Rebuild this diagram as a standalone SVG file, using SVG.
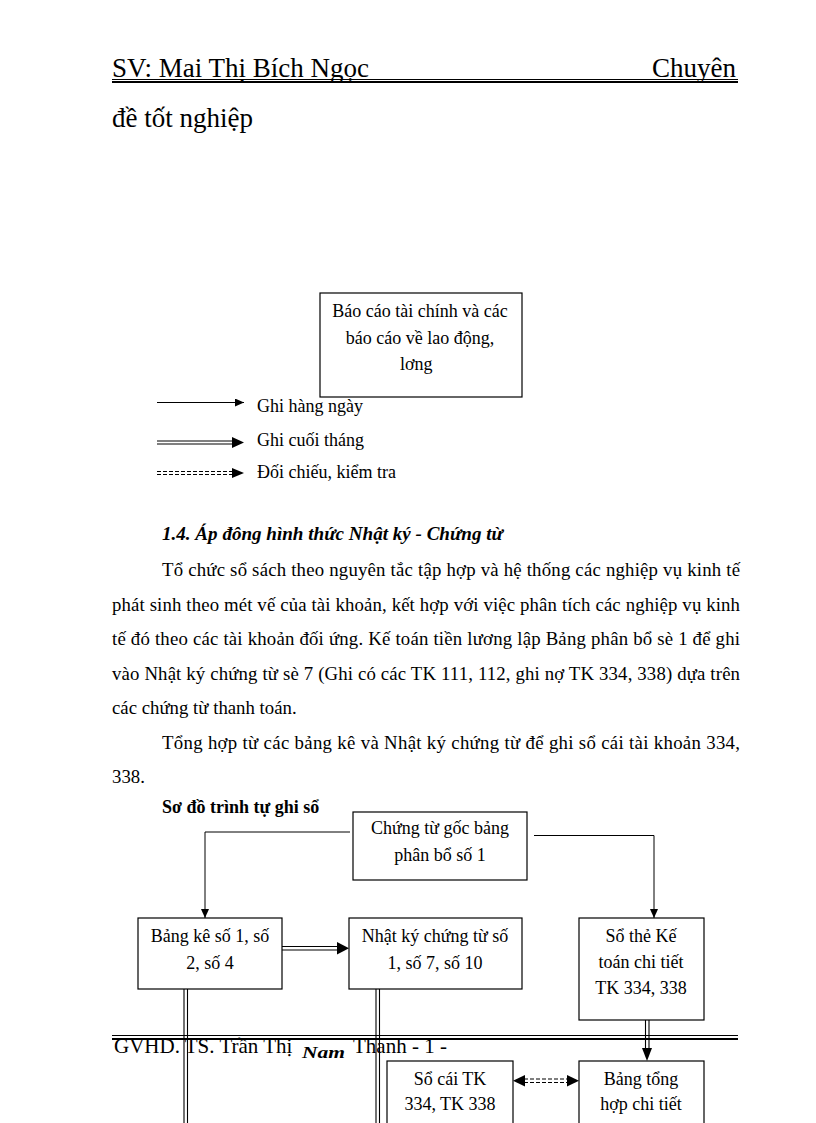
<svg xmlns="http://www.w3.org/2000/svg" width="816" height="1123" viewBox="0 0 816 1123">
<style>
text{font-family:"Liberation Serif","Times New Roman",serif;fill:#000}
.t{font-size:18px}
.c{text-anchor:middle}
.p{font-size:18.8px}
.box{fill:#fff;stroke:#000;stroke-width:1.2}
.ln{fill:none;stroke:#000;stroke-width:1}
.dl{fill:none;stroke:#000;stroke-width:1.1}
.dash{fill:none;stroke:#000;stroke-width:1.1;stroke-dasharray:4 2}
</style>
<defs>
<marker id="ah" markerWidth="10" markerHeight="8" refX="9" refY="4" orient="auto" markerUnits="userSpaceOnUse"><path d="M0,0 L9,4 L0,8 Z" fill="#000"/></marker>
</defs>

<g id="header">
<text x="112" y="77" style="font-size:27px">SV: Mai Thị Bích Ngọc</text>
<text x="736" y="77" style="font-size:27px" text-anchor="end">Chuyên</text>
<line x1="112" y1="79.5" x2="738" y2="79.5" stroke="#000" stroke-width="1"/>
<line x1="112" y1="82" x2="738" y2="82" stroke="#000" stroke-width="2"/>
<text x="112" y="127" style="font-size:27px">đề tốt nghiệp</text>
</g>

<g id="report">
<rect class="box" x="320" y="293" width="202" height="104"/>
<text class="t c" x="420" y="317">Báo cáo tài chính và các</text>
<text class="t c" x="420" y="344">báo cáo về lao động,</text>
<text class="t" x="400" y="370">lơng</text>
</g>

<g id="legend">
<line class="ln" x1="157" y1="402.5" x2="244" y2="402.5" marker-end="url(#ah)"/>
<text class="t" x="257" y="412">Ghi hàng ngày</text>
<path class="dl" d="M157,441 H236 M157,444 H236"/>
<path d="M232,437 L244,442.5 L232,448 Z" fill="#000"/>
<text class="t" x="257" y="446">Ghi cuối tháng</text>
<path class="dash" d="M157,471.5 H234 M157,474.5 H234"/>
<path d="M232,468 L244,473 L232,478 Z" fill="#000"/>
<text class="t" x="257" y="478">Đối chiếu, kiểm tra</text>
</g>

<g id="body">
<text x="162" y="540" style="font-size:19px;font-weight:bold;font-style:italic" textLength="341" lengthAdjust="spacingAndGlyphs">1.4. Áp đông hình thức Nhật ký - Chứng từ</text>
<text class="p" x="162" y="576" textLength="578" lengthAdjust="spacing">Tổ chức sổ sách theo nguyên tắc tập hợp và hệ thống các nghiệp vụ kinh tế</text>
<text class="p" x="112" y="610.5" textLength="628" lengthAdjust="spacing">phát sinh theo mét vế của tài khoản, kết hợp với việc phân tích các nghiệp vụ kinh</text>
<text class="p" x="112" y="645" textLength="628" lengthAdjust="spacing">tế đó theo các tài khoản đối ứng. Kế toán tiền lương lập Bảng phân bổ sè 1 để ghi</text>
<text class="p" x="112" y="679.5" textLength="628" lengthAdjust="spacing">vào Nhật ký chứng từ sè 7 (Ghi có các TK 111, 112, ghi nợ TK 334, 338) dựa trên</text>
<text class="p" x="112" y="714">các chứng từ thanh toán.</text>
<text class="p" x="162" y="748.5" textLength="578" lengthAdjust="spacing">Tổng hợp từ các bảng kê và Nhật ký chứng từ để ghi sổ cái tài khoản 334,</text>
<text class="p" x="112" y="783">338.</text>
<text x="162" y="813" style="font-size:18px;font-weight:bold">Sơ đồ trình tự ghi sổ</text>
</g>

<g id="connectors">
<path class="ln" d="M350,832 H205 V918" marker-end="url(#ah)"/>
<path class="ln" d="M534,835.5 H654 V918" marker-end="url(#ah)"/>
<path class="dl" d="M282,946.5 H338 M282,950 H338"/>
<path d="M337,942 L349,948.3 L337,954.5 Z" fill="#000"/>
<path class="dl" d="M184,989 V1123 M187.5,989 V1123"/>
<path class="dl" d="M376,989 V1123 M379.5,989 V1123"/>
<path class="dl" d="M645.5,1020 V1050 M649,1020 V1050"/>
<path d="M642,1048 L652,1048 L647,1061 Z" fill="#000"/>
<path class="dash" d="M524,1079 H568 M524,1082.5 H568"/>
<path d="M525,1075 L513,1080.7 L525,1086.5 Z" fill="#000"/>
<path d="M567,1075 L579,1080.7 L567,1086.5 Z" fill="#000"/>
</g>

<g id="n1">
<rect class="box" x="353" y="812" width="174" height="68"/>
<text class="t c" x="440" y="834">Chứng từ gốc bảng</text>
<text class="t c" x="440" y="861">phân bổ số 1</text>
</g>
<g id="n2">
<rect class="box" x="138" y="918" width="144" height="71"/>
<text class="t c" x="210" y="942">Bảng kê số 1, số</text>
<text class="t c" x="210" y="969">2, số 4</text>
</g>
<g id="n3">
<rect class="box" x="349" y="918" width="173" height="71"/>
<text class="t c" x="435" y="942">Nhật ký chứng từ số</text>
<text class="t c" x="435" y="969">1, số 7, số 10</text>
</g>
<g id="n4">
<rect class="box" x="579" y="918" width="125" height="102"/>
<text class="t c" x="641" y="942">Sổ thẻ Kế</text>
<text class="t c" x="641" y="968">toán chi tiết</text>
<text class="t c" x="641" y="994">TK 334, 338</text>
</g>

<g id="footer">
<line x1="112" y1="1035.5" x2="738" y2="1035.5" stroke="#000" stroke-width="1"/>
<line x1="112" y1="1039" x2="738" y2="1039" stroke="#000" stroke-width="2"/>
<text x="114" y="1053" style="font-size:21px">GVHD. TS. Trần Thị</text>
<text x="302" y="1058" style="font-size:17px;font-weight:bold;font-style:italic" textLength="43" lengthAdjust="spacingAndGlyphs">Nam</text>
<text x="353" y="1053" style="font-size:21px">Thanh  - 1 -</text>
</g>

<g id="n5">
<rect class="box" x="387" y="1061" width="126" height="70"/>
<text class="t c" x="450" y="1085">Sổ cái TK</text>
<text class="t c" x="450" y="1110">334, TK 338</text>
</g>
<g id="n6">
<rect class="box" x="579" y="1061" width="125" height="70"/>
<text class="t c" x="641" y="1085">Bảng tổng</text>
<text class="t c" x="641" y="1110">hợp chi tiết</text>
</g>
</svg>
